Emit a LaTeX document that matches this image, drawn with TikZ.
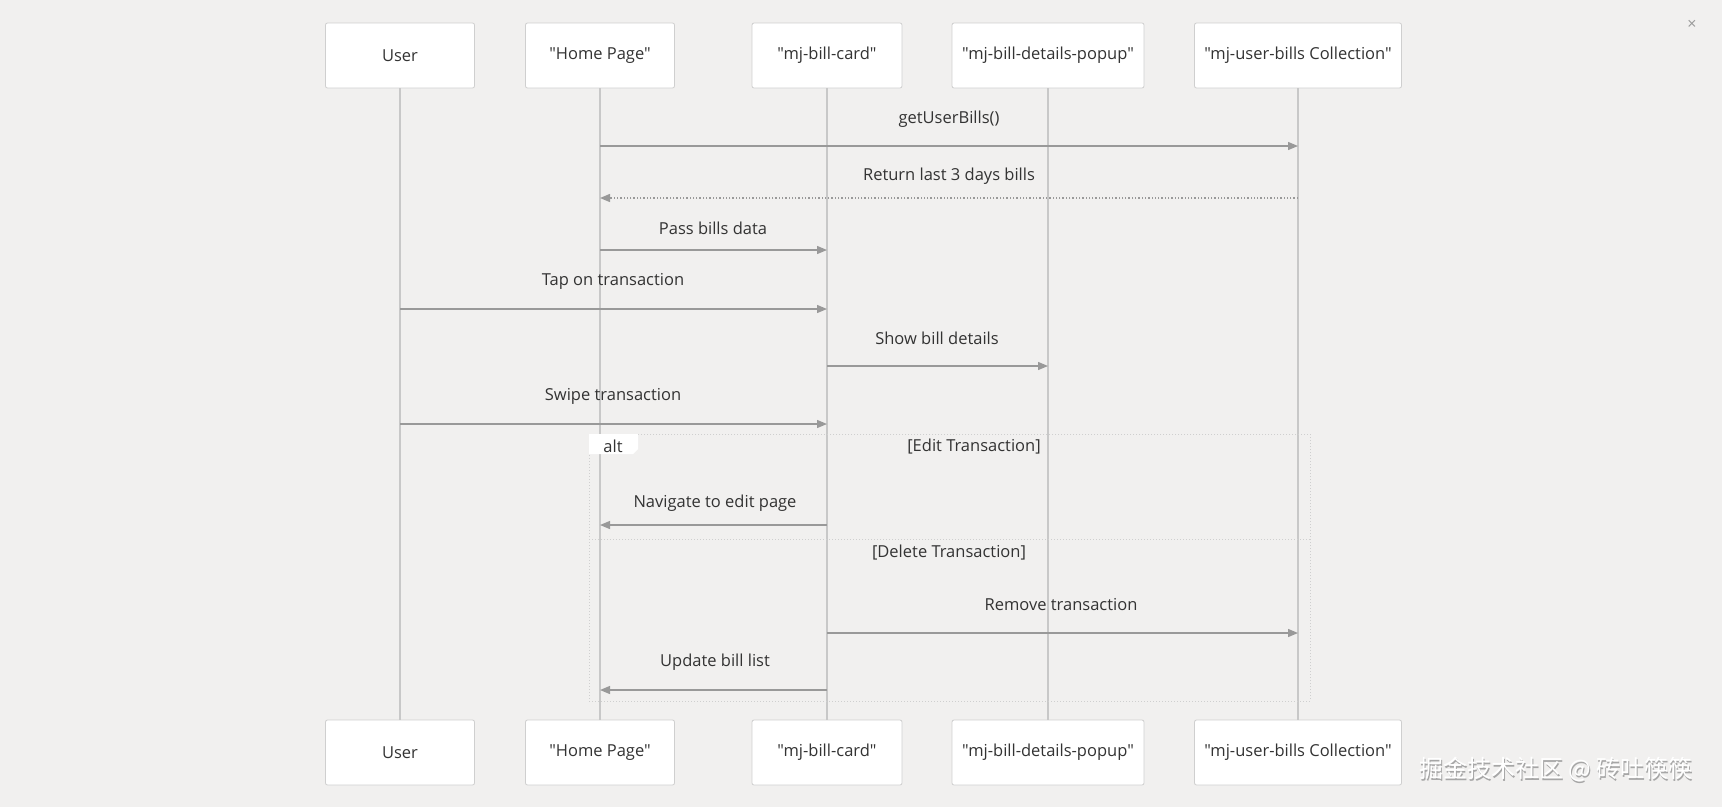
\documentclass[tikz,border=0pt]{standalone}
\usepackage{fontspec}
\newfontfamily\mainf{Open Sans}
\newfontfamily\cjk{Noto Sans CJK SC}
\usetikzlibrary{arrows.meta}
\definecolor{bg}{HTML}{F1F0EF}
\definecolor{boxline}{HTML}{CFCFCF}
\definecolor{lifeline}{HTML}{C8C8C8}
\definecolor{msgline}{HTML}{999999}
\definecolor{txt}{HTML}{333333}
\tikzset{
  actor/.style={draw=boxline, fill=white, rounded corners=2pt, minimum height=65pt, inner sep=0pt, font=\mainf\fontsize{16.5}{19}\selectfont, text=txt, line width=0.8pt},
  life/.style={draw=lifeline, line width=1.4pt},
  msg/.style={draw=msgline, line width=1.3pt, -{Triangle[length=10pt,width=8pt]}},
  rmsg/.style={msg, dotted},
  lbl/.style={font=\mainf\fontsize{16.5}{19}\selectfont, text=txt, inner sep=0pt},
  frame/.style={draw=boxline, line width=1pt, dotted},
}
\begin{document}
\begin{tikzpicture}[x=1pt,y=-1pt]
\fill[bg] (0,0) rectangle (1722,807);
\useasboundingbox (0,0) rectangle (1722,807);
% lifeline x positions
\def\xu{400}\def\xh{600}\def\xc{827}\def\xp{1048}\def\xl{1298}
% top actors
\node[actor, minimum width=149pt] (ut) at (\xu,55.5) {User};
\node[actor, minimum width=149pt] (ht) at (\xh,55.5) {"Home Page"};
\node[actor, minimum width=150pt] (ct) at (\xc,55.5) {"mj-bill-card"};
\node[actor, minimum width=192pt] (pt) at (\xp,55.5) {"mj-bill-details-popup"};
\node[actor, minimum width=207pt] (lt) at (\xl,55.5) {"mj-user-bills Collection"};
% bottom actors
\node[actor, minimum width=149pt] (ub) at (\xu,752.5) {User};
\node[actor, minimum width=149pt] (hb) at (\xh,752.5) {"Home Page"};
\node[actor, minimum width=150pt] (cb) at (\xc,752.5) {"mj-bill-card"};
\node[actor, minimum width=192pt] (pb) at (\xp,752.5) {"mj-bill-details-popup"};
\node[actor, minimum width=207pt] (lb) at (\xl,752.5) {"mj-user-bills Collection"};
% lifelines
\draw[life] (ut) -- (ub);
\draw[life] (ht) -- (hb);
\draw[life] (ct) -- (cb);
\draw[life] (pt) -- (pb);
\draw[life] (lt) -- (lb);
% alt frame
\draw[frame] (589,434) rectangle (1310,701);
\draw[frame] (589,539) -- (1310,539);
\fill[white] (589,434) -- (638,434) -- (638,449) -- (633,454) -- (589,454) -- cycle;
\node[lbl] (altl) at (613,446) {alt};
\node[lbl] (g1) at (974,447) {[Edit Transaction]};
\node[lbl] (g2) at (949,553) {[Delete Transaction]};
% message coordinates
\coordinate (m1a) at (\xh,146); \coordinate (m1b) at (\xl,146);
\coordinate (m2a) at (\xl,198); \coordinate (m2b) at (\xh,198);
\coordinate (m3a) at (\xh,250); \coordinate (m3b) at (\xc,250);
\coordinate (m4a) at (\xu,309); \coordinate (m4b) at (\xc,309);
\coordinate (m5a) at (\xc,366); \coordinate (m5b) at (\xp,366);
\coordinate (m6a) at (\xu,424); \coordinate (m6b) at (\xc,424);
\coordinate (m7a) at (\xc,525); \coordinate (m7b) at (\xh,525);
\coordinate (m8a) at (\xc,633); \coordinate (m8b) at (\xl,633);
\coordinate (m9a) at (\xc,690); \coordinate (m9b) at (\xh,690);
\draw[msg] (m1a) -- (m1b);
\draw[rmsg] (m2a) -- (m2b);
\draw[msg] (m3a) -- (m3b);
\draw[msg] (m4a) -- (m4b);
\draw[msg] (m5a) -- (m5b);
\draw[msg] (m6a) -- (m6b);
\draw[msg] (m7a) -- (m7b);
\draw[msg] (m8a) -- (m8b);
\draw[msg] (m9a) -- (m9b);
\node[lbl] (l1) at (949,119) {getUserBills()};
\node[lbl] (l2) at (949,176) {Return last 3 days bills};
\node[lbl] (l3) at (713,228) {Pass bills data};
\node[lbl] (l4) at (613,281) {Tap on transaction};
\node[lbl] (l5) at (937,338) {Show bill details};
\node[lbl] (l6) at (613,396) {Swipe transaction};
\node[lbl] (l7) at (715,503) {Navigate to edit page};
\node[lbl] (l8) at (1061,605) {Remove transaction};
\node[lbl] (l9) at (715,662) {Update bill list};
% close icon
\node[font=\mainf\fontsize{16}{18}\selectfont, text=msgline, inner sep=0pt] (close) at (1692,25) {×};
% watermark
\node[font=\cjk\fontsize{24}{26}\selectfont, text=gray!70, inner sep=0pt] (wm2) at (1557,771) {掘金技术社区 @ 砖吐筷筷};
\node[font=\cjk\fontsize{24}{26}\selectfont, text=white, inner sep=0pt] (wm) at (1555.8,769.8) {掘金技术社区 @ 砖吐筷筷};
\end{tikzpicture}
\end{document}
